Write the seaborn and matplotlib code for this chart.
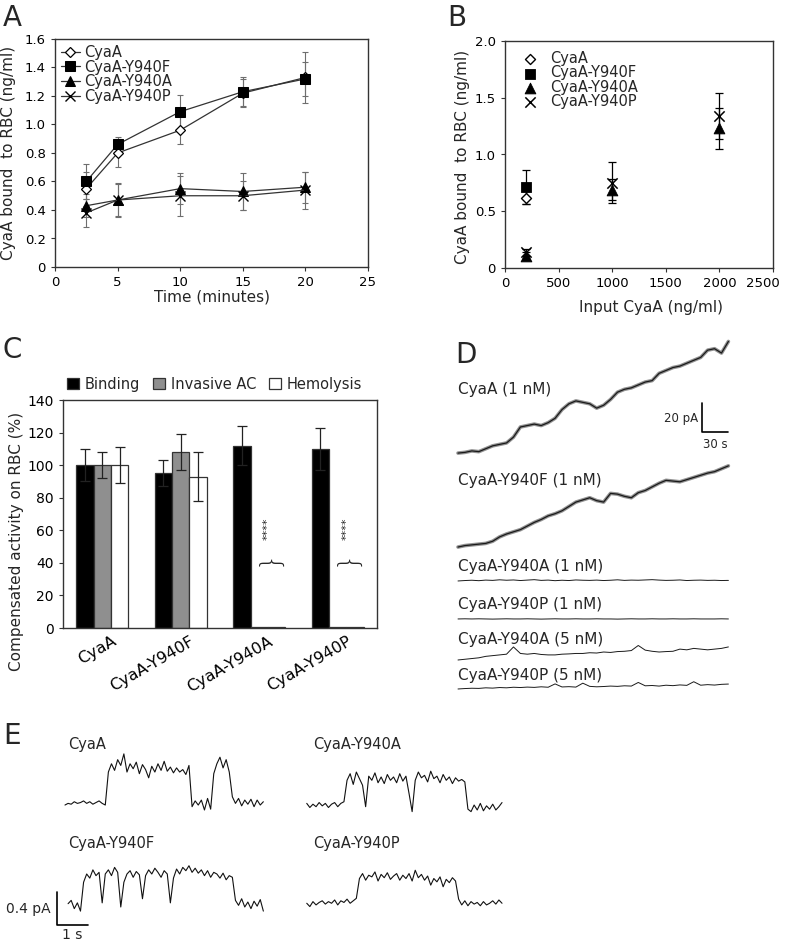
import numpy as np
import pandas as pd
import matplotlib
matplotlib.use("Agg")
import matplotlib.pyplot as plt
import matplotlib.patches as mpatches
import matplotlib.transforms as mtransforms
import seaborn as sns

# ---- A: binding kinetics (ng/ml bound vs time) ----
time_min = [2.5, 5, 10, 15, 20]
a_cyaa = [0.55, 0.80, 0.96, 1.22, 1.33]
a_cyaa_err = [0.12, 0.10, 0.10, 0.10, 0.18]
a_y940f = [0.60, 0.86, 1.09, 1.23, 1.32]
a_y940f_err = [0.12, 0.05, 0.12, 0.10, 0.12]
a_y940a = [0.43, 0.47, 0.55, 0.53, 0.56]
a_y940a_err = [0.08, 0.11, 0.11, 0.13, 0.11]
a_y940p = [0.38, 0.47, 0.50, 0.50, 0.54]
a_y940p_err = [0.10, 0.12, 0.14, 0.10, 0.13]

# ---- B: bound vs input ----
input_ng = [200, 1000, 2000]
b_cyaa = [0.62, np.nan, np.nan]
b_cyaa_err = [0.06, 0, 0]
b_y940f = [0.71, np.nan, np.nan]
b_y940f_err = [0.15, 0, 0]
b_y940a = [0.11, 0.69, 1.23]
b_y940a_err = [0.03, 0.09, 0.18]
b_y940p = [0.14, 0.75, 1.34]
b_y940p_err = [0.03, 0.18, 0.20]

# ---- C: compensated activities ----
groups = ['CyaA', 'CyaA-Y940F', 'CyaA-Y940A', 'CyaA-Y940P']
assays = ['Binding', 'Invasive AC', 'Hemolysis']
binding = [100, 95, 112, 110]
binding_err = [10, 8, 12, 13]
invasive = [100, 108, 0.5, 0.5]
invasive_err = [8, 11, 0, 0]
hemolysis = [100, 93, 0.4, 0.4]
hemolysis_err = [11, 15, 0, 0]

# ---- D: whole-cell current traces (pA above start), one sample every 8 s ----
d_dt = 8
d_cyaa = [0, 0.5, 1.5, 1, 3, 5, 6, 7, 11, 18, 19, 20, 19, 21, 24, 30, 34, 36, 35, 34,
          31, 33, 37, 42, 44, 45, 47, 49, 50, 55, 57, 59, 60, 62, 64, 66, 71, 72, 69, 77]
d_y940f = [0, 1, 1.5, 2, 2.5, 4, 7, 9, 10.5, 12, 14.5, 17, 19, 21.5, 23, 25, 28, 31, 32.5, 34,
           32, 31, 37, 36.5, 35, 34, 37.5, 39, 41.5, 44, 46, 45.5, 45, 46.5, 48, 49.5, 51, 52, 54, 56]
d_y940a_1 = [0, 0.3, 0.5, 0.2, 0.6, 0.4, 0.8, 0.5, 0.7, 0.3, 0.6, 0.9, 0.4, 0.6, 0.2, 0.5, 0.3, 0.7, 0.5, 0.4,
             0.6, 0.3, 0.5, 0.8, 0.4, 0.6, 0.5, 0.7, 0.9, 0.6, 0.4, 0.5, 0.7, 0.3, 0.5, 0.6, 0.4, 0.5, 0.3, 0.4]
d_y940p_1 = [0, 0.1, 0, 0.1, 0, -0.1, 0, 0.1, 0, 0, 0.1, 0, -0.1, 0, 0.1, 0, 0, 0.1, 0, 0,
             0.1, 0, 0, -0.1, 0, 0.1, 0, 0, 0.1, 0, 0, 0.1, 0, 0, 0.1, 0, 0, 0, 0.1, 0]
d_y940a_5 = [0, 0.5, 1, 1.5, 2.5, 3, 3.5, 4, 9, 4.5, 4, 4.5, 3.8, 3.5, 3.5, 4, 4.2, 4.5, 4.5, 5,
             4.8, 5.5, 5.2, 5.8, 6, 6.5, 10, 6.8, 6, 5.5, 5.8, 6, 7.5, 7, 8, 7.5, 7, 7.5, 8, 9]
d_y940p_5 = [0, 0.3, 0.5, 0.4, 0.8, 0.6, 1, 0.8, 1.2, 1, 1.3, 1.1, 1.5, 1.2, 3.5, 1.4, 1.6, 1.3, 4, 1.8,
             1.5, 1.7, 2, 1.8, 2.2, 2, 4.5, 2.2, 2.4, 2, 2.6, 2.3, 2.8, 2.5, 5, 2.6, 3, 2.7, 3.2, 3.4]
d_labels = ['CyaA (1 nM)', 'CyaA-Y940F (1 nM)', 'CyaA-Y940A (1 nM)',
            'CyaA-Y940P (1 nM)', 'CyaA-Y940A (5 nM)', 'CyaA-Y940P (5 nM)']

# ---- E: single-channel traces (pA above closed level), one sample every 0.1 s ----
e_dt = 0.1
e_cyaa = [0.00, 0.02, 0.01, 0.04, 0.02, 0.03, 0.05, 0.02, 0.04, 0.01, 0.03, 0.05, 0.02, 0.00,
          0.40, 0.50, 0.42, 0.55, 0.48, 0.62, 0.40, 0.50, 0.44, 0.52, 0.38, 0.49, 0.43, 0.33,
          0.47, 0.40, 0.50, 0.42, 0.53, 0.41, 0.46, 0.39, 0.45, 0.40, 0.43, 0.37, 0.48,
          -0.02, 0.05, 0.00, 0.06, -0.06, 0.08, -0.05,
          0.38, 0.50, 0.58, 0.45, 0.55, 0.40,
          0.10, 0.02, 0.08, -0.01, 0.06, 0.01, 0.07, -0.02, 0.06, 0.00, 0.04]
e_y940a = [0.02, -0.03, 0.01, -0.02, 0.03, -0.01, 0.02, -0.03, 0.01, 0.03, -0.02, 0.02, 0.04,
           0.30, 0.38, 0.25, 0.40, 0.32, 0.24, -0.02, 0.35, 0.30, 0.39, 0.27, 0.34, 0.26, 0.37,
           0.30, 0.34, 0.27, 0.38, 0.29, 0.35, 0.14, -0.08, 0.30, 0.40, 0.33, 0.36, 0.28, 0.41,
           0.32, 0.35, 0.27, 0.37, 0.30, 0.34, 0.26, 0.33, 0.29, 0.31, 0.28,
           -0.05, -0.08, 0.00, -0.06, 0.02, -0.07, -0.01, -0.05, 0.01, -0.06, -0.02, 0.03]
e_y940f = [0.04, 0.08, -0.02, 0.05, -0.05,
           0.30, 0.40, 0.35, 0.45, 0.38, 0.42, 0.05, 0.40, 0.45, 0.38, 0.48, 0.42, 0.00,
           0.30, 0.40, 0.44, 0.36, 0.43, 0.39, 0.10, 0.38, 0.45, 0.40, 0.47, 0.42, 0.36,
           0.44, 0.40, 0.05, 0.35, 0.46, 0.40, 0.48, 0.44, 0.50, 0.42, 0.47, 0.41, 0.45,
           0.38, 0.44, 0.36, 0.42, 0.40, 0.35, 0.41, 0.33, 0.38, 0.36,
           0.08, 0.02, 0.10, 0.00, 0.06, -0.02, 0.07, 0.01, 0.09, -0.05]
e_y940p = [0.00, -0.04, 0.02, -0.02, 0.01, 0.03, -0.01, 0.02, 0.00, 0.04, -0.02, 0.03, 0.01,
           0.05, 0.00, 0.03, 0.06,
           0.30, 0.36, 0.28, 0.34, 0.32, 0.38, 0.27, 0.35, 0.31, 0.37, 0.29, 0.33, 0.36, 0.28,
           0.34, 0.30, 0.36, 0.27, 0.40, 0.31, 0.35, 0.28, 0.33, 0.22, 0.30, 0.26, 0.32, 0.20,
           0.29, 0.25, 0.31, 0.27,
           0.05, -0.02, 0.03, -0.03, 0.02, -0.01, 0.01, -0.03, 0.02, -0.02, 0.00, 0.03, -0.01,
           0.04, 0.00]

sns.set_style("ticks")
plt.rcParams['font.family'] = ['DejaVu Sans']
plt.rcParams['axes.edgecolor'] = '#333333'
plt.rcParams['xtick.color'] = '#333333'
plt.rcParams['ytick.color'] = '#333333'
plt.rcParams['xtick.labelcolor'] = 'black'
plt.rcParams['ytick.labelcolor'] = 'black'

fig = plt.figure(figsize=(7.87, 9.46), dpi=100)
W, H = 787, 946


def px_axes(l, t, r, b):
    return fig.add_axes([l / W, 1 - b / H, (r - l) / W, (b - t) / H])


for letter, x, y in [('A', 3, 4), ('B', 447, 4), ('C', 3, 336), ('D', 455, 341), ('E', 3, 722)]:
    fig.text(x / W, 1 - y / H, letter, fontsize=20, va='top', ha='left')

# ---------------- panel A ----------------
axA = px_axes(55, 39, 368, 267)
a_series = [
    ('CyaA', a_cyaa, a_cyaa_err, dict(marker='D', ms=5, mfc='white', mec='black', mew=0.9)),
    ('CyaA-Y940F', a_y940f, a_y940f_err, dict(marker='s', ms=7, mfc='black', mec='black')),
    ('CyaA-Y940A', a_y940a, a_y940a_err, dict(marker='^', ms=6.5, mfc='black', mec='black')),
    ('CyaA-Y940P', a_y940p, a_y940p_err, dict(marker='x', ms=7, mfc='black', mec='black', mew=1)),
]
for name, vals, err, st in a_series:
    axA.errorbar(time_min, vals, yerr=err, fmt='none', ecolor='#6e6e6e',
                 elinewidth=0.8, capsize=2.5, capthick=0.8, zorder=1)
    sns.lineplot(x=time_min, y=vals, ax=axA, color='#333333', lw=0.9, label=name,
                 estimator=None, zorder=3, **st)
axA.set_xlim(0, 25)
axA.set_ylim(0, 1.6)
axA.set_xticks([0, 5, 10, 15, 20, 25])
axA.set_yticks([0, 0.2, 0.4, 0.6, 0.8, 1.0, 1.2, 1.4, 1.6])
axA.set_yticklabels(['0', '0.2', '0.4', '0.6', '0.8', '1.0', '1.2', '1.4', '1.6'])
axA.set_xlabel('Time (minutes)', fontsize=11)
axA.set_ylabel('CyaA bound  to RBC (ng/ml)', fontsize=11)
axA.xaxis.set_label_coords(0.5, -0.1)
axA.yaxis.set_label_coords(-0.125, 0.5)
axA.legend(loc='upper left', frameon=False, fontsize=10.5, handlelength=1.3,
           handletextpad=0.3, labelspacing=-0.02, borderaxespad=0.15, borderpad=0.25)

# ---------------- panel B ----------------
axB = px_axes(505, 41, 773, 268)
b_series = [
    ('CyaA', b_cyaa, b_cyaa_err, dict(marker='D', s=26, color='white', edgecolor='black', linewidth=1)),
    ('CyaA-Y940F', b_y940f, b_y940f_err, dict(marker='s', s=55, color='black', edgecolor='black')),
    ('CyaA-Y940A', b_y940a, b_y940a_err, dict(marker='^', s=60, color='black', edgecolor='black')),
    ('CyaA-Y940P', b_y940p, b_y940p_err, dict(marker='x', s=55, color='black', linewidth=1.1)),
]
for name, vals, err, st in b_series:
    axB.errorbar(input_ng, vals, yerr=err, fmt='none', ecolor='black',
                 elinewidth=0.9, capsize=3, capthick=0.9, zorder=1)
    sns.scatterplot(x=input_ng, y=vals, ax=axB, label=name, zorder=3, **st)
axB.set_xlim(0, 2500)
axB.set_ylim(0, 2.0)
axB.set_xticks([0, 500, 1000, 1500, 2000, 2500])
axB.set_yticks([0, 0.5, 1.0, 1.5, 2.0])
axB.set_yticklabels(['0', '0.5', '1.0', '1.5', '2.0'])
axB.set_xlabel('Input CyaA (ng/ml)', fontsize=11)
axB.set_ylabel('CyaA bound  to RBC (ng/ml)', fontsize=11)
axB.xaxis.set_label_coords(0.545, -0.14)
axB.yaxis.set_label_coords(-0.13, 0.49)
axB.legend(loc='upper left', frameon=False, fontsize=10.5, handletextpad=0.4,
           labelspacing=-0.05, borderaxespad=0.3, borderpad=0.4)

for ax in (axA, axB):
    ax.tick_params(labelsize=9.5, length=3, width=0.8)
    for s in ax.spines.values():
        s.set_visible(True)
        s.set_linewidth(1.0)
# last x label of B sits a little left so it stays inside the figure
last = axB.get_xticklabels()[-1]
last.set_transform(last.get_transform() +
                   mtransforms.ScaledTranslation(-0.1, 0, fig.dpi_scale_trans))

# ---------------- panel C ----------------
axC = px_axes(63, 400, 377, 628)
dfC = pd.DataFrame({'group': groups * 3,
                    'assay': np.repeat(assays, len(groups)),
                    'value': binding + invasive + hemolysis})
bar_colors = ['black', '#8f8f8f', 'white']
sns.barplot(data=dfC, x='group', y='value', hue='assay', order=groups, hue_order=assays,
            palette=bar_colors, width=0.66, errorbar=None, edgecolor='#333333',
            linewidth=0.9, legend=False, ax=axC)
for cont, errs in zip(axC.containers, [binding_err, invasive_err, hemolysis_err]):
    xs = [p.get_x() + p.get_width() / 2 for p in cont]
    ys = [p.get_height() for p in cont]
    keep = [i for i, e in enumerate(errs) if e > 0]
    axC.errorbar([xs[i] for i in keep], [ys[i] for i in keep], yerr=[errs[i] for i in keep],
                 fmt='none', ecolor='#222222', elinewidth=0.9, capsize=3.5, capthick=0.9)
# significance marks over the abolished activities
for gi in (2, 3):
    p1, p2 = axC.containers[1][gi], axC.containers[2][gi]
    xm = (p1.get_x() + p2.get_x() + p2.get_width()) / 2
    axC.text(xm, 43.5, '}', rotation=90, fontsize=19, ha='center', va='center',
             fontweight='light')
    axC.text(xm, 61, '****', rotation=90, fontsize=8, ha='center', va='center')
axC.set_xlim(-0.5, 3.5)
axC.set_ylim(0, 140)
axC.set_yticks(range(0, 141, 20))
axC.set_xlabel('')
axC.set_ylabel('Compensated activity on RBC (%)', fontsize=11)
axC.yaxis.set_label_coords(-0.125, 0.38)
axC.tick_params(axis='y', labelsize=10, length=3, width=0.8)
axC.tick_params(axis='x', labelsize=11.5, length=0, pad=4)
shift = mtransforms.ScaledTranslation(0.09, 0, fig.dpi_scale_trans)
for lab in axC.get_xticklabels():
    lab.set_rotation(30)
    lab.set_ha('right')
    lab.set_rotation_mode('anchor')
    lab.set_transform(lab.get_transform() + shift)
for s in axC.spines.values():
    s.set_visible(True)
    s.set_linewidth(1.0)
handles = [mpatches.Patch(facecolor=c, edgecolor='#333333', linewidth=0.9, label=a)
           for c, a in zip(bar_colors, assays)]
axC.legend(handles=handles, loc='lower center', bbox_to_anchor=(0.483, 1.0), ncol=3,
           frameon=False, fontsize=10.5, handlelength=0.8, handleheight=0.8,
           handletextpad=0.4, columnspacing=0.9, borderaxespad=0.15)

# ---------------- panel D ----------------
axD = px_axes(455, 330, 735, 700)
axD.set_xlim(-3.46, 319.6)
axD.set_ylim(0, 255.2)
axD.axis('off')
d_traces = [d_cyaa, d_y940f, d_y940a_1, d_y940p_1, d_y940a_5, d_y940p_5]
d_base = [170.3, 105.5, 82.1, 55.9, 27.6, 7.6]
d_lab_y = [214.5, 151.7, 92.4, 66.2, 41.4, 16.6]
for vals, base, lab, ly in zip(d_traces, d_base, d_labels, d_lab_y):
    t = np.arange(len(vals)) * d_dt
    y = np.array(vals) + base
    big = max(vals) > 20
    if big:
        sns.lineplot(x=t, y=y, ax=axD, color='#777777', lw=2.6, estimator=None, alpha=0.8)
    sns.lineplot(x=t, y=y, ax=axD, color='#1a1a1a', lw=0.9 if big else 0.7, estimator=None)
    axD.text(0, ly, lab, fontsize=11, ha='left', va='center')
axD.plot([281.5, 281.5, 311.5], [204.8, 184.8, 184.8], color='black', lw=1.2)
axD.text(277, 194.5, '20 pA', fontsize=8.5, ha='right', va='center')
axD.text(311.5, 181, '30 s', fontsize=8.5, ha='right', va='top')

# ---------------- panel E ----------------
axE = px_axes(40, 735, 520, 946)
axE.set_xlim(-0.806, 14.68)
axE.set_ylim(-0.473, 2.085)
axE.axis('off')
e_traces = [('CyaA', e_cyaa, 0.0, 1.236, 0.1, 1.964),
            ('CyaA-Y940A', e_y940a, 7.8, 1.236, 8.0, 1.964),
            ('CyaA-Y940F', e_y940f, 0.1, 0.0, 0.1, 0.764),
            ('CyaA-Y940P', e_y940p, 7.8, 0.045, 8.0, 0.764)]
for name, vals, x0, y0, lx, ly in e_traces:
    t = np.arange(len(vals)) * e_dt + x0
    sns.lineplot(x=t, y=np.array(vals) + y0, ax=axE, color='#111111', lw=0.8, estimator=None)
    axE.text(lx, ly, name, fontsize=10.5, ha='left', va='center')
axE.plot([-0.27, -0.27, 0.73], [0.185, -0.215, -0.215], color='black', lw=1.2)
axE.text(-0.45, -0.03, '0.4 pA', fontsize=10, ha='right', va='center')
axE.text(0.23, -0.26, '1 s', fontsize=10, ha='center', va='top')

fig.savefig('out.png', dpi=100)
